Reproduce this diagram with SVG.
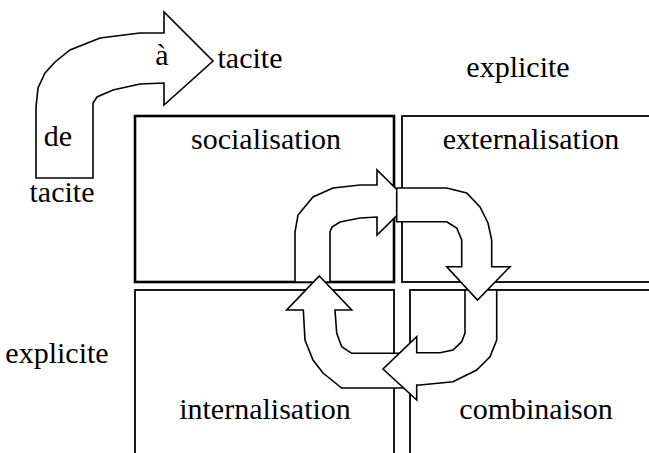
<svg xmlns="http://www.w3.org/2000/svg" width="649" height="453" viewBox="0 0 649 453">
<style>
.box{fill:#fff;stroke:#000;stroke-width:1.8}
.thick{stroke-width:2.6}
.arr{fill:#fff;stroke:#000;stroke-width:1.6;stroke-linejoin:miter}
</style>
<rect width="649" height="453" fill="#fff"/>
<g font-family="'Liberation Serif', 'DejaVu Serif', 'Times New Roman', serif" font-size="30" fill="#000" text-anchor="middle">
<g id="legend">
<path class="arr" d="M36,178 L36,107 L38,88 L45,73 L55,62 L70,50 L100,38 L140,33 L164,33 L164,12 L213,61 L164,105 L164,83 L140,84 L113,90 L97,97 L93,103 L93,178 Z"/>
<text x="162" y="65">à</text>
<text x="58" y="146">de</text>
<text x="250" y="68">tacite</text>
<text x="62" y="202">tacite</text>
<text x="518" y="77">explicite</text>
<text x="57" y="363">explicite</text>
</g>
<g id="socialisation">
<rect class="box thick" x="135" y="116" width="259" height="166"/>
<text x="266" y="149">socialisation</text>
</g>
<g id="externalisation">
<rect class="box" x="402" y="116" width="260" height="166"/>
<text x="531" y="149">externalisation</text>
</g>
<g id="internalisation">
<rect class="box" x="135" y="290" width="259" height="200"/>
<text x="265" y="419">internalisation</text>
</g>
<g id="combinaison">
<rect class="box" x="410" y="290" width="260" height="200"/>
<text x="536" y="419">combinaison</text>
</g>
</g>
<g id="connectors">
<path class="arr" d="M295,282 L295,232 L298,215 L313,197 L333,188 L360,185 L377,185 L377,170 L410,202.5 L377,235 L377,217 L360,218 L340,222 L332,227 L330,232 L330,282 Z"/>
<path class="arr" d="M319.3,276 L351.7,310 L335,310 L336.7,333 L341.7,346.7 L351.7,353.3 L408,353.3 L408,388 L341.7,388 L323,373 L313,360 L305,340 L303.3,310 L286.7,310 Z"/>
<path class="arr" d="M465,290 L465,333 L461.7,341.7 L453,350 L440,352.7 L416.7,352.7 L416.7,336.7 L383,369 L416.7,400 L416.7,385 L420,385 L453,381.7 L476.7,370 L490,356.7 L496.7,340 L496.7,290 Z"/>
<path class="arr" d="M396.7,188 L446.7,188 L466.7,193 L480,207 L488,223 L491.7,240 L491.7,266.7 L510,266.7 L477.5,300 L446.7,266.7 L461.7,266.7 L461.7,240 L456.7,228 L446.7,221.7 L396.7,221.7 Z"/>
</g>
</svg>
